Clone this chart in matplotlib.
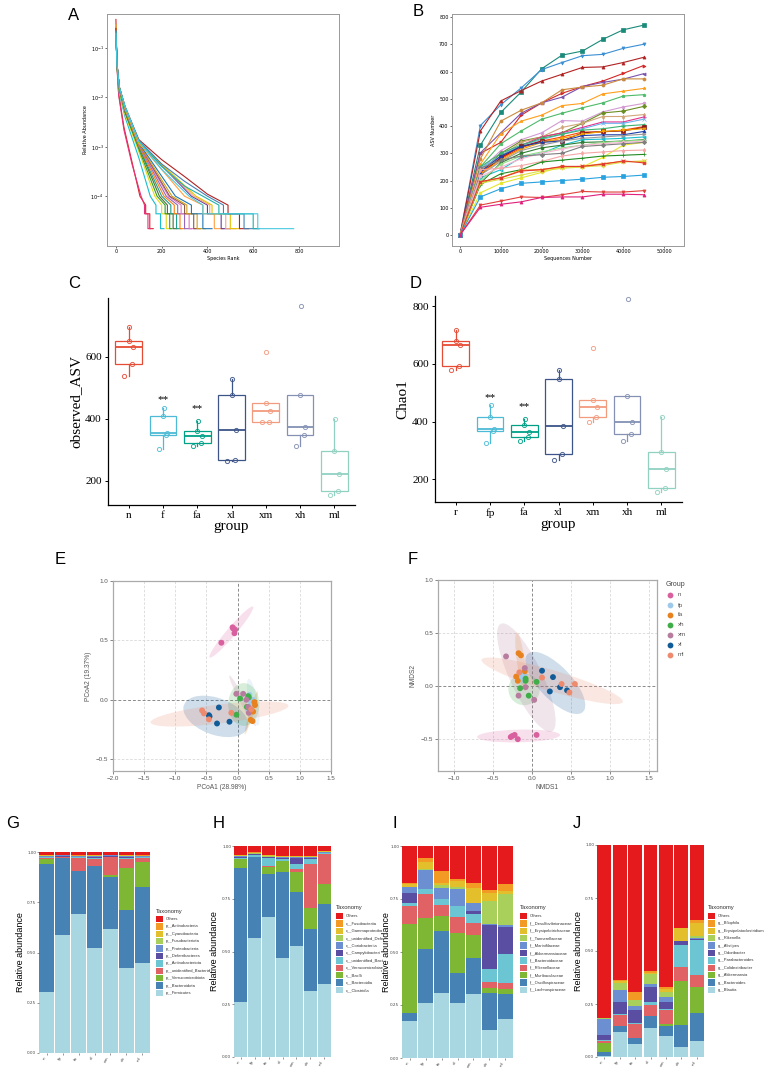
import matplotlib
matplotlib.use("Agg")
import matplotlib.pyplot as plt
from matplotlib.patches import Ellipse, Rectangle
from matplotlib.ticker import NullLocator

W, H = 767, 1069
SANS = ["Liberation Sans", "DejaVu Sans"]
SERIF = ["Liberation Serif", "DejaVu Serif"]

# ---------------- data ----------------
# A: rank abundance, head points down to 1e-4, then tail ranks [drop to 4.4e-5, drop to 2.2e-5, end]
a_colors = ["#d62728", "#e6337a", "#17becf", "#e5d817", "#2ca02c", "#556b2f", "#1f9e89",
            "#ff7f0e", "#9467bd", "#e377c2", "#8c564b", "#d4a017", "#1f77b4", "#ff9f40",
            "#6a3d9a", "#f4a582", "#e5c100", "#b22222", "#4682b4", "#20b2aa", "#48c9e0"]
a_ranks = [[0, 4, 12, 35, 70, 105], [0, 4, 12, 35, 70, 110], [0, 5, 15, 40, 100, 150],
           [0, 5, 15, 40, 100, 170], [0, 5, 15, 40, 100, 180], [0, 5, 15, 40, 100, 190],
           [0, 5, 15, 40, 100, 200], [0, 5, 15, 40, 100, 210], [0, 5, 15, 40, 100, 220],
           [0, 5, 15, 40, 100, 230], [0, 5, 15, 40, 100, 235], [0, 5, 15, 40, 100, 245],
           [0, 5, 15, 40, 100, 260], [0, 5, 15, 40, 100, 300], [0, 5, 15, 40, 100, 330],
           [0, 5, 15, 40, 100, 340], [0, 5, 15, 40, 100, 350],
           [0, 5, 15, 40, 100, 200, 300, 400], [0, 5, 15, 40, 100, 200, 300, 400],
           [0, 5, 15, 40, 100, 200, 300, 380], [0, 5, 15, 40, 100, 200, 320]]
a_abund = [[0.38, 0.05, 0.012, 0.0025, 5e-4, 1e-4], [0.3, 0.045, 0.011, 0.0022, 4.5e-4, 1e-4],
           [0.25, 0.04, 0.012, 0.004, 6e-4, 1e-4], [0.3, 0.04, 0.013, 0.0045, 8e-4, 1e-4],
           [0.2, 0.04, 0.014, 0.005, 9e-4, 1e-4], [0.22, 0.045, 0.015, 0.005, 1e-3, 1e-4],
           [0.2, 0.04, 0.015, 0.0055, 1e-3, 1e-4], [0.25, 0.045, 0.015, 0.0055, 1.05e-3, 1e-4],
           [0.2, 0.045, 0.016, 0.0055, 1.1e-3, 1e-4], [0.22, 0.045, 0.016, 0.006, 1.1e-3, 1e-4],
           [0.2, 0.045, 0.016, 0.006, 1.15e-3, 1e-4], [0.22, 0.045, 0.016, 0.006, 1.15e-3, 1e-4],
           [0.2, 0.045, 0.016, 0.006, 1.2e-3, 1e-4], [0.2, 0.045, 0.016, 0.0062, 1.2e-3, 1e-4],
           [0.2, 0.045, 0.016, 0.0062, 1.25e-3, 1e-4], [0.2, 0.045, 0.016, 0.006, 1.2e-3, 1e-4],
           [0.2, 0.045, 0.016, 0.006, 1.2e-3, 1e-4],
           [0.25, 0.045, 0.016, 0.0065, 1.4e-3, 5.5e-4, 2.5e-4, 1.1e-4],
           [0.22, 0.045, 0.016, 0.0065, 1.35e-3, 4.5e-4, 2e-4, 1e-4],
           [0.22, 0.045, 0.016, 0.0065, 1.3e-3, 4e-4, 1.6e-4, 1e-4],
           [0.2, 0.045, 0.016, 0.0065, 1.3e-3, 3.5e-4, 1e-4]]
a_tail = [[130, 148, 163], [125, 140, 150], [175, 195, 210], [200, 220, 235], [215, 235, 245],
          [225, 250, 265], [240, 265, 285], [255, 280, 300], [270, 300, 330], [285, 320, 350],
          [300, 340, 370], [310, 355, 390], [330, 380, 420], [380, 430, 470], [400, 460, 500],
          [410, 480, 525], [420, 500, 540], [490, 540, 580], [470, 560, 625], [450, 600, 625],
          [380, 620, 777]]
a_tail_levels = [6.6e-5, 4.4e-5, 2.2e-5]

# B: rarefaction
b_x = [0, 5000, 10000, 15000, 20000, 25000, 30000, 35000, 40000, 45000]
b_curves = [
    [0, 330, 450, 525, 610, 660, 675, 718, 753, 770],
    [0, 402, 478, 540, 607, 633, 658, 663, 685, 700],
    [0, 382, 492, 530, 565, 590, 615, 617, 633, 652],
    [0, 300, 340, 440, 485, 520, 545, 565, 593, 622],
    [0, 302, 375, 447, 485, 506, 545, 560, 572, 592],
    [0, 280, 418, 458, 485, 533, 543, 550, 573, 573],
    [0, 260, 372, 418, 440, 475, 483, 518, 528, 538],
    [0, 250, 335, 382, 425, 447, 467, 485, 510, 515],
    [0, 240, 310, 350, 375, 420, 418, 452, 470, 483],
    [0, 230, 300, 345, 360, 375, 410, 448, 455, 472],
    [0, 235, 290, 340, 360, 395, 410, 435, 435, 442],
    [0, 230, 280, 330, 360, 375, 395, 415, 415, 433],
    [0, 245, 290, 330, 350, 370, 390, 410, 410, 425],
    [0, 250, 300, 330, 355, 370, 385, 390, 400, 405],
    [0, 230, 280, 320, 345, 360, 378, 378, 385, 398],
    [0, 220, 285, 325, 345, 345, 375, 380, 382, 395],
    [0, 225, 275, 315, 340, 355, 370, 380, 385, 390],
    [0, 232, 290, 325, 340, 345, 365, 368, 368, 380],
    [0, 220, 270, 310, 330, 345, 355, 360, 365, 370],
    [0, 210, 240, 285, 300, 330, 350, 352, 355, 360],
    [0, 190, 265, 300, 320, 330, 340, 342, 345, 350],
    [0, 200, 260, 290, 305, 320, 330, 340, 345, 348],
    [0, 215, 250, 280, 300, 315, 330, 335, 340, 345],
    [0, 155, 190, 210, 230, 250, 250, 285, 330, 340],
    [0, 245, 275, 290, 295, 300, 325, 330, 335, 340],
    [0, 240, 245, 255, 270, 290, 300, 305, 310, 312],
    [0, 185, 225, 240, 268, 275, 282, 290, 293, 296],
    [0, 195, 210, 238, 240, 250, 252, 262, 270, 270],
    [0, 190, 205, 220, 236, 245, 250, 255, 268, 272],
    [0, 196, 210, 235, 240, 252, 252, 260, 272, 265],
    [0, 140, 170, 190, 195, 200, 205, 212, 215, 220],
    [0, 110, 125, 140, 138, 148, 160, 158, 158, 163],
    [0, 102, 113, 122, 138, 140, 140, 150, 150, 148],
]
b_colors = ["#1a8a7a", "#3b8fd4", "#b22222", "#d62728", "#7b52ae", "#c98a3c", "#ff9f1c",
            "#4dbb6a", "#d39bd3", "#6b8e23", "#d2a679", "#e8308a", "#6cb4ee", "#3cb371",
            "#ff4500", "#8b1a1a", "#f4a300", "#1f3fa8", "#999999", "#17becf", "#2e7d32",
            "#98df8a", "#f7b6d2", "#e6e62a", "#7f7f7f", "#f4a6a6", "#228b22", "#ff8c00",
            "#dddd44", "#e03c31", "#29a3e0", "#e0403a", "#e0207a"]
b_markers = ["s", "v", "^", ">", "<", "o", "*", "p", "h", "D", "d", "+", "x", "P", "X"]

# C / D: alpha diversity
c_groups = ["n", "f", "fa", "xl", "xm", "xh", "ml"]
c_values = [[539, 576, 633, 650, 697], [301, 348, 353, 408, 434], [312, 320, 345, 360, 392],
            [264, 268, 362, 476, 528], [388, 390, 425, 450, 615], [311, 348, 374, 476, 765],
            [154, 165, 222, 296, 400]]
c_star_idx = [1, 2]
c_star_y = [462, 432]
d_groups = ["r", "fp", "fa", "xl", "xm", "xh", "ml"]
d_values = [[577, 593, 666, 678, 717], [324, 366, 375, 416, 457], [332, 345, 363, 389, 409],
            [267, 289, 384, 547, 579], [398, 416, 451, 474, 655], [331, 358, 398, 489, 826],
            [157, 168, 234, 296, 416]]
d_star_idx = [1, 2]
d_star_y = [482, 453]
box_colors = ["#E64B35", "#4DBBD5", "#00A087", "#3C5488", "#F39B7F", "#8491B4", "#91D1C2"]

# E / F: ordination
ord_groups = ["n", "fp", "fa", "xh", "xm", "xl", "ml"]
ord_colors = ["#d9609f", "#9ec9ea", "#e8821e", "#3fae49", "#b87d9e", "#0f5c99", "#ee8a6e"]
e_x = [[-0.08, -0.04, -0.05, -0.26, -0.07], [0.19, 0.22, 0.2, 0.24, 0.18],
       [0.27, 0.28, 0.25, 0.21, 0.24], [0.04, 0.17, -0.02, 0.18, 0.15],
       [-0.02, 0.09, 0.14, 0.17, 0.18], [-0.30, -0.46, -0.33, -0.13, -0.45],
       [-0.57, -0.54, -0.46, -0.10, 0.22]]
e_y = [[0.61, 0.59, 0.56, 0.48, 0.60], [0.04, -0.02, -0.05, 0.0, -0.08],
       [-0.02, -0.045, -0.10, -0.17, -0.18], [0.01, 0.03, -0.126, 0.02, -0.06],
       [0.05, 0.05, 0.0, -0.06, -0.11], [-0.065, -0.13, -0.2, -0.185, -0.14],
       [-0.09, -0.115, -0.165, -0.11, -0.08]]
# ellipse: cx, cy, width, height, angle
e_ell = [(-0.1, 0.57, 0.82, 0.1, 31), (0.25, -0.02, 0.42, 0.14, -68),
         (0.22, -0.11, 0.42, 0.06, 60), (0.1, -0.04, 0.5, 0.36, 0),
         (0.08, -0.01, 0.6, 0.07, -45), (-0.35, -0.14, 1.05, 0.32, -8),
         (-0.29, -0.12, 2.22, 0.16, 3.6)]
f_x = [[-0.27, -0.22, -0.18, 0.06, -0.25], [-0.12, -0.10, -0.13, -0.11, -0.14],
       [-0.17, -0.14, -0.2, -0.18, -0.09], [-0.08, -0.08, -0.15, -0.04, 0.06],
       [-0.33, -0.09, -0.08, -0.17, 0.03], [0.13, 0.27, 0.23, 0.36, 0.45],
       [-0.16, 0.13, 0.38, 0.48, 0.55]]
f_y = [[-0.48, -0.46, -0.50, -0.46, -0.47], [0.09, 0.10, 0.12, 0.06, 0.08],
       [0.31, 0.29, 0.09, 0.05, 0.14], [0.07, 0.05, -0.02, -0.09, 0.04],
       [0.28, 0.17, -0.01, -0.09, -0.13], [0.145, 0.085, -0.05, -0.01, -0.04],
       [0.13, 0.08, 0.02, -0.06, 0.02]]
f_ell = [(-0.17, -0.47, 1.06, 0.12, 1), (-0.12, 0.09, 0.15, 0.15, 0),
         (-0.14, 0.23, 0.56, 0.1, -79), (-0.1, -0.03, 0.4, 0.3, 0),
         (-0.07, 0.08, 1.21, 0.38, -55.8), (0.3, 0.03, 0.9, 0.35, -34.6),
         (0.26, 0.05, 1.85, 0.2, -12.3)]

# G-J: taxonomy stacked bars (bottom -> top = legend reversed)
bar_groups = ["n", "fp", "fa", "xl", "xm", "xh", "ml"]
tax_colors = ["#e41a1c", "#f39a25", "#e3c02b", "#a9d05b", "#6b8fd1", "#5a4ea3",
              "#6cc5d3", "#e06265", "#7db734", "#4682b4", "#a8d6e1"]
g_taxa = ["Others", "p__Actinobacteria", "p__Cyanobacteria", "p__Fusobacteriota",
          "p__Proteobacteria", "p__Deferribacteres", "p__Actinobacteriota",
          "p__unidentified_Bacteria", "p__Verrucomicrobiota", "p__Bacteroidota", "p__Firmicutes"]
g_vals = [
    None,
    [0.002, 0.002, 0.002, 0.002, 0.002, 0.002, 0.002],
    [0.001, 0.001, 0.001, 0.001, 0.001, 0.001, 0.001],
    [0.001, 0.001, 0.001, 0.001, 0.001, 0.001, 0.001],
    [0.006, 0.004, 0.005, 0.006, 0.004, 0.006, 0.004],
    [0.002, 0.002, 0.002, 0.003, 0.003, 0.004, 0.002],
    [0.004, 0.004, 0.005, 0.005, 0.003, 0.004, 0.004],
    [0.002, 0.003, 0.065, 0.035, 0.085, 0.045, 0.020],
    [0.025, 0.0, 0.0, 0.0, 0.012, 0.211, 0.124],
    [0.638, 0.385, 0.209, 0.410, 0.258, 0.290, 0.380],
    [0.304, 0.585, 0.694, 0.522, 0.618, 0.421, 0.446],
]
# legend names as far as they are visible in the reference panel
h_taxa = ["Others", "c__Fusobacteriia", "c__Gammaproteoba", "c__unidentified_Defe",
          "c__Coriobacteriia", "c__Campylobacteri", "c__unidentified_Bact",
          "c__Verrucomicrobiae", "c__Bacilli", "c__Bacteroidia", "c__Clostridia"]
h_vals = [
    None,
    [0.001, 0.001, 0.001, 0.001, 0.001, 0.001, 0.001],
    [0.003, 0.003, 0.003, 0.003, 0.003, 0.004, 0.003],
    [0.002, 0.002, 0.002, 0.002, 0.002, 0.002, 0.002],
    [0.004, 0.004, 0.004, 0.004, 0.004, 0.004, 0.004],
    [0.003, 0.002, 0.003, 0.003, 0.030, 0.003, 0.002],
    [0.005, 0.010, 0.040, 0.010, 0.025, 0.025, 0.005],
    [0.002, 0.002, 0.002, 0.002, 0.011, 0.207, 0.138],
    [0.040, 0.0, 0.034, 0.050, 0.095, 0.102, 0.097],
    [0.638, 0.380, 0.205, 0.410, 0.257, 0.290, 0.378],
    [0.260, 0.566, 0.662, 0.468, 0.526, 0.315, 0.347],
]
i_taxa = ["Others", "f__Desulfovibrionaceae", "f__Erysipelotrichaceae", "f__Tannerellaceae",
          "f__Marinifilaceae", "f__Akkermansiaceae", "f__Bacteroidaceae", "f__Rikenellaceae",
          "f__Muribaculaceae", "f__Oscillospiraceae", "f__Lachnospiraceae"]
i_vals = [
    None,
    [0.003, 0.020, 0.055, 0.008, 0.027, 0.016, 0.036],
    [0.013, 0.034, 0.012, 0.030, 0.067, 0.036, 0.011],
    [0.002, 0.004, 0.015, 0.010, 0.002, 0.110, 0.149],
    [0.028, 0.090, 0.050, 0.078, 0.037, 0.002, 0.008],
    [0.047, 0.002, 0.002, 0.002, 0.013, 0.209, 0.128],
    [0.014, 0.020, 0.028, 0.051, 0.044, 0.060, 0.135],
    [0.083, 0.113, 0.051, 0.075, 0.058, 0.031, 0.029],
    [0.423, 0.148, 0.071, 0.191, 0.109, 0.021, 0.025],
    [0.036, 0.256, 0.290, 0.138, 0.168, 0.178, 0.116],
    [0.175, 0.258, 0.308, 0.261, 0.302, 0.130, 0.185],
]
j_taxa = ["Others", "g__Bilophila", "g__Erysipelatoclostridium", "g__Rikenella", "g__Alistipes",
          "g__Odoribacter", "g__Parabacteroides", "g__Colidextribacter", "g__Akkermansia",
          "g__Bacteroides", "g__Blautia"]
j_vals = [
    None,
    [0.001, 0.008, 0.039, 0.006, 0.011, 0.002, 0.013],
    [0.001, 0.007, 0.001, 0.006, 0.012, 0.059, 0.060],
    [0.004, 0.032, 0.027, 0.046, 0.024, 0.002, 0.012],
    [0.074, 0.060, 0.016, 0.016, 0.023, 0.002, 0.004],
    [0.023, 0.054, 0.064, 0.072, 0.035, 0.015, 0.006],
    [0.005, 0.004, 0.004, 0.011, 0.006, 0.105, 0.162],
    [0.011, 0.055, 0.066, 0.055, 0.063, 0.065, 0.056],
    [0.044, 0.0, 0.0, 0.0, 0.011, 0.207, 0.124],
    [0.016, 0.027, 0.029, 0.055, 0.047, 0.106, 0.134],
    [0.006, 0.118, 0.061, 0.137, 0.099, 0.047, 0.074],
]

# ---------------- figure ----------------
fig = plt.figure(figsize=(W / 100, H / 100), dpi=100)
fig.patch.set_facecolor("white")


def add_ax(l, t, r, b):
    return fig.add_axes([l / W, 1 - b / H, (r - l) / W, (b - t) / H])


def letter(x, y, s):
    fig.text(x / W, 1 - y / H, s, fontsize=12, family=SANS, va="center", ha="left")


def frame_gray(ax, color="#999999", lw=0.7):
    for sp in ax.spines.values():
        sp.set_color(color)
        sp.set_linewidth(lw)


# ---- A ----
ax = add_ax(107, 14, 339, 246)
for col, rr, yy, tail in zip(a_colors, a_ranks, a_abund, a_tail):
    xs = list(rr) + [tail[0], tail[0], tail[1], tail[1], tail[2]]
    ys = list(yy) + [a_tail_levels[0], a_tail_levels[1], a_tail_levels[1],
                     a_tail_levels[2], a_tail_levels[2]]
    ax.plot(xs, ys, color=col, lw=0.8)
ax.set_yscale("log")
ax.set_ylim(9.8e-6, 0.49)
ax.set_xlim(-39, 975)
ax.set_yticks([1e-4, 1e-3, 1e-2, 1e-1])
ax.yaxis.set_minor_locator(NullLocator())
ax.set_xticks([0, 200, 400, 600, 800])
ax.tick_params(labelsize=3.5, length=1.5, width=0.4, pad=1)
ax.set_xlabel("Species Rank", fontsize=3.5, labelpad=1)
ax.set_ylabel("Relative Abundance", fontsize=3.5, labelpad=2)
frame_gray(ax)

# ---- B ----
ax = add_ax(452, 14, 684, 246)
for k, (vals, col) in enumerate(zip(b_curves, b_colors)):
    ax.plot(b_x, vals, color=col, lw=0.8, marker=b_markers[k % len(b_markers)],
            markersize=2.2, markeredgewidth=0.5)
ax.set_xlim(-1960, 54900)
ax.set_ylim(-40, 811)
ax.set_xticks(range(0, 50001, 10000))
ax.set_yticks(range(0, 801, 100))
ax.tick_params(labelsize=3.5, length=1.5, width=0.4, pad=1)
ax.set_xlabel("Sequences Number", fontsize=3.5, labelpad=1)
ax.set_ylabel("ASV Number", fontsize=3.5, labelpad=2)
frame_gray(ax)

letter(68, 16, "A")
letter(413, 12, "B")


# ---- C / D ----
jit = [-0.12, 0.1, 0.13, 0.0, 0.02]


def box_panel(ax, groups, values, star_idx, star_y, ylabel, yticks, ylim):
    bp = ax.boxplot(values, positions=range(len(groups)), widths=0.78, showfliers=False,
                    patch_artist=True, whis=1.5)
    for i, col in enumerate(box_colors):
        bp["boxes"][i].set(facecolor="none", edgecolor=col, linewidth=0.9)
        bp["medians"][i].set(color=col, linewidth=1.3)
        for w in bp["whiskers"][2 * i:2 * i + 2]:
            w.set(color=col, linewidth=0.9)
        for c in bp["caps"][2 * i:2 * i + 2]:
            c.set(visible=False)
        xs = [i + j for j in jit]
        ax.plot(xs, values[i], "o", mfc="none", mec=col, ms=3, mew=0.7, alpha=0.9)
    for i, y in zip(star_idx, star_y):
        ax.text(i, y, "**", ha="center", va="center", fontsize=8, family=SERIF)
    ax.set_xticks(range(len(groups)))
    ax.set_xticklabels(groups)
    ax.set_yticks(yticks)
    ax.set_xlim(-0.6, 6.6)
    ax.set_ylim(*ylim)
    for s in ["top", "right"]:
        ax.spines[s].set_visible(False)
    ax.spines["left"].set_linewidth(0.9)
    ax.spines["bottom"].set_linewidth(0.9)
    ax.tick_params(labelsize=8, length=2.5, width=0.7, pad=2)
    for t in ax.get_xticklabels() + ax.get_yticklabels():
        t.set_family(SERIF)
    ax.set_xlabel("group", fontsize=11, family=SERIF, labelpad=0)
    ax.set_ylabel(ylabel, fontsize=11, family=SERIF, labelpad=2)


ax = add_ax(108, 298, 355, 505)
box_panel(ax, c_groups, c_values, c_star_idx, c_star_y, "observed_ASV", [200, 400, 600], (121, 790))
ax = add_ax(435, 296, 682, 502)
box_panel(ax, d_groups, d_values, d_star_idx, d_star_y, "Chao1", [200, 400, 600, 800], (121, 835))

letter(68, 284, "C")
letter(410, 283, "D")


# ---- E / F ----
def ord_panel(ax, xs, ys, ells, xlim, ylim, xticks, yticks, xlabel, ylabel):
    for (cx, cy, w, h, ang), col in zip(ells, ord_colors):
        ax.add_patch(Ellipse((cx, cy), w, h, angle=ang, facecolor=col, alpha=0.2,
                             edgecolor="none", zorder=2))
    for gx, gy, col in zip(xs, ys, ord_colors):
        ax.scatter(gx, gy, s=18, color=col, edgecolor="none", zorder=4)
    ax.set_xlim(*xlim)
    ax.set_ylim(*ylim)
    ax.set_xticks(xticks)
    ax.set_yticks(yticks)
    for v in xticks:
        if v != 0:
            ax.axvline(v, color="#d8d8d8", lw=0.6, ls=(0, (3, 2)), zorder=1)
    for v in yticks:
        if v != 0:
            ax.axhline(v, color="#d8d8d8", lw=0.6, ls=(0, (3, 2)), zorder=1)
    ax.axvline(0, color="#8a8a8a", lw=0.7, ls=(0, (3, 2)), zorder=1)
    ax.axhline(0, color="#8a8a8a", lw=0.7, ls=(0, (3, 2)), zorder=1)
    frame_gray(ax, "#aaaaaa", 0.9)
    ax.tick_params(labelsize=4.5, length=2, width=0.5, pad=1.5, colors="#555555")
    for t in ax.get_xticklabels() + ax.get_yticklabels():
        t.set_family(SANS)
    ax.set_xlabel(xlabel, fontsize=4.8, color="#555555", family=SANS, labelpad=2)
    ax.set_ylabel(ylabel, fontsize=4.8, color="#555555", family=SANS, labelpad=3)


ax = add_ax(113, 581, 331, 771)
ord_panel(ax, e_x, e_y, e_ell, (-2.0, 1.5), (-0.6, 1.0),
          [-2.0, -1.5, -1.0, -0.5, 0.0, 0.5, 1.0, 1.5], [-0.5, 0.0, 0.5, 1.0],
          "PCoA1 (28.98%)", "PCoA2 (19.37%)")
ax = add_ax(438, 580, 657, 771)
ord_panel(ax, f_x, f_y, f_ell, (-1.2, 1.6), (-0.8, 1.0),
          [-1.0, -0.5, 0.0, 0.5, 1.0, 1.5], [-0.5, 0.0, 0.5, 1.0],
          "NMDS1", "NMDS2")

# legend of F
fig.text(666 / W, 1 - 585 / H, "Group", fontsize=5, color="#444444", family=SANS, va="center")
for k, (g, col) in enumerate(zip(ord_groups, ord_colors)):
    yy = 595 + k * 10
    fig.add_artist(plt.Line2D([670 / W], [1 - yy / H], marker="o", ms=4.2, color=col,
                              mec="none", transform=fig.transFigure))
    fig.text(678 / W, 1 - yy / H, g, fontsize=4.5, color="#555555", family=SANS, va="center")

letter(55, 560, "E")
letter(408, 560, "F")


# ---- G-J ----
def bar_panel(ax, taxa, vals, leg_x, leg_y, ylab_x):
    n = len(bar_groups)
    known = [v for v in vals if v is not None]
    others = [1 - sum(col[i] for col in known) for i in range(n)]
    full = [others if v is None else v for v in vals]
    bottom = [0.0] * n
    for k in range(len(taxa) - 1, -1, -1):
        ax.bar(range(n), full[k], bottom=bottom, width=0.9, color=tax_colors[k], linewidth=0)
        bottom = [b + h for b, h in zip(bottom, full[k])]
    ax.set_xlim(-0.47, n - 0.53)
    ax.set_ylim(0, 1)
    ax.set_yticks([0, 0.25, 0.5, 0.75, 1.0])
    ax.set_yticklabels(["0.00", "0.25", "0.50", "0.75", "1.00"])
    ax.set_xticks(range(n))
    ax.set_xticklabels(bar_groups, rotation=60, ha="right")
    for s in ax.spines.values():
        s.set_visible(False)
    ax.tick_params(labelsize=3, length=1.2, width=0.4, pad=0.8, colors="#444444")
    ax.set_ylabel("Relative abundance", fontsize=6.5, family=SANS)
    ax.yaxis.set_label_coords(ylab_x, 0.5)
    # legend
    fig.text(leg_x / W, 1 - leg_y / H, "Taxonomy", fontsize=4.2, family=SANS,
             va="center", color="#333333")
    for k, (name, col) in enumerate(zip(taxa, tax_colors)):
        yy = leg_y + 8 + k * 7.4
        fig.add_artist(Rectangle((leg_x / W, 1 - (yy + 3.2) / H), 7 / W, 6.4 / H,
                                 facecolor=col, edgecolor="none", transform=fig.transFigure))
        fig.text((leg_x + 10) / W, 1 - yy / H, name, fontsize=3.0, family=SANS,
                 va="center", color="#333333")


ax = add_ax(39, 852, 150, 1053)
bar_panel(ax, g_taxa, g_vals, 156, 911, -0.13)
ax = add_ax(234, 846, 331, 1057)
bar_panel(ax, h_taxa, h_vals, 336, 908, -0.15)
ax = add_ax(402, 846, 513, 1058)
bar_panel(ax, i_taxa, i_vals, 520, 908, -0.095)
ax = add_ax(597, 845, 704, 1057)
bar_panel(ax, j_taxa, j_vals, 708, 908, -0.135)

letter(6, 823, "G")
letter(213, 823, "H")
letter(393, 823, "I")
letter(573, 823, "J")

fig.savefig("out.png", dpi=100)
